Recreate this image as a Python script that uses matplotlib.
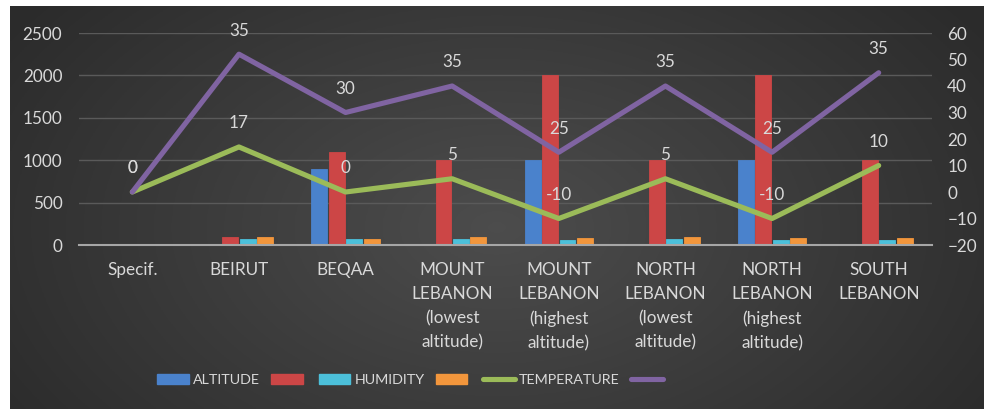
import numpy as np
import matplotlib
matplotlib.use("Agg")
import matplotlib.pyplot as plt
from matplotlib.lines import Line2D
from matplotlib.patches import Patch

plt.rcParams['font.family'] = ['Lato', 'DejaVu Sans']

categories = ["Specif.", "BEIRUT", "BEQAA", "MOUNT\nLEBANON\n(lowest\naltitude)",
              "MOUNT\nLEBANON\n(highest\naltitude)", "NORTH\nLEBANON\n(lowest\naltitude)",
              "NORTH\nLEBANON\n(highest\naltitude)", "SOUTH\nLEBANON"]

# bar series (left axis)
bar_names = ["ALTITUDE", "", "HUMIDITY", ""]
altitude = [0, 0, 900, 0, 1000, 0, 1000, 0]
altitude_max = [0, 100, 1100, 1000, 2000, 1000, 2000, 1000]
humidity = [0, 70, 65, 70, 60, 70, 60, 60]
humidity_max = [0, 90, 70, 90, 80, 90, 80, 80]
bar_series = [altitude, altitude_max, humidity, humidity_max]
bar_colors = ["#4a82cc", "#cc4646", "#4cc0da", "#f2963c"]

# stacked line series (right axis)
line_names = ["TEMPERATURE", ""]
temperature = [0, 17, 0, 5, -10, 5, -10, 10]
temperature_max = [0, 35, 30, 35, 25, 35, 25, 35]
line_colors = ["#9bbb59", "#8064a2"]

txt = "#d9d9d9"
fs = 12.3

fig = plt.figure(figsize=(9.84, 4.09), dpi=100)
fig.patch.set_facecolor("white")

# dark radial background
bg = fig.add_axes([10 / 984, 0, 974 / 984, 403 / 409])
gx, gy = np.meshgrid(np.linspace(0, 1, 400), np.linspace(0, 1, 200))
r = np.sqrt(((gx - 0.5) / 0.6) ** 2 + ((gy - 0.55) / 0.9) ** 2)
r = np.clip(r, 0, 1)
shade = 0.30 - 0.13 * r
bg.imshow(np.dstack([shade, shade, shade]), aspect="auto", extent=[0, 1, 0, 1])
bg.axis("off")

ax = fig.add_axes([79 / 984, 1 - 245 / 409, (932 - 79) / 984, (245 - 33) / 409])
ax.patch.set_visible(False)
x = np.arange(len(categories))

for i, (vals, col) in enumerate(zip(bar_series, bar_colors)):
    ax.bar(x + (i - 1.5) * 0.163, vals, width=0.15, color=col,
           edgecolor=col, linewidth=0.6, zorder=2)

ax.set_xlim(-0.5, len(categories) - 0.5)
ax.set_ylim(0, 2500)
ax.set_yticks(np.arange(0, 2501, 500))
ax.yaxis.grid(True, color="#5a5a5a", linewidth=1)
ax.set_axisbelow(True)
for s in ["top", "left", "right"]:
    ax.spines[s].set_visible(False)
ax.spines["bottom"].set_color("#a6a6a6")
ax.spines["bottom"].set_linewidth(1.5)
ax.spines["bottom"].set_zorder(3)
ax.set_xticks(x)
ax.set_xticklabels(categories, linespacing=1.62)
ax.tick_params(axis="x", length=0, pad=12, colors=txt, labelsize=fs)
ax.tick_params(axis="y", length=0, pad=12, colors=txt, labelsize=fs)

ax2 = ax.twinx()
ax2.patch.set_visible(False)
ax2.set_ylim(-20, 60)
ax2.set_yticks(np.arange(-20, 61, 10))
for s in ax2.spines.values():
    s.set_visible(False)
ax2.tick_params(axis="y", length=0, pad=11, colors=txt, labelsize=fs)

stack = np.zeros(len(categories))
handles = []
for vals, col in zip([temperature, temperature_max], line_colors):
    stack = stack + np.array(vals)
    ax2.plot(x, stack, color=col, linewidth=3.7, solid_capstyle="round", zorder=4)
    for xi, yi, v in zip(x, stack, vals):
        ax2.annotate(str(v), (xi, yi), xytext=(0, 17), textcoords="offset points",
                     ha="center", va="center", color=txt, fontsize=fs, zorder=5)

for name, col in zip(bar_names, bar_colors):
    handles.append(Patch(facecolor=col, edgecolor=col, label=name))
for name, col in zip(line_names, line_colors):
    handles.append(Line2D([0], [0], color=col, linewidth=3.7, solid_capstyle="round", label=name))

fig.legend(handles, [h.get_label() for h in handles],
           loc="center", bbox_to_anchor=(412 / 984, 1 - 380 / 409), ncol=6,
           frameon=False, handlelength=2.2, handleheight=0.7, handletextpad=0.3,
           columnspacing=0.8, labelcolor=txt, fontsize=10.3)

fig.savefig("out.png", dpi=100)
